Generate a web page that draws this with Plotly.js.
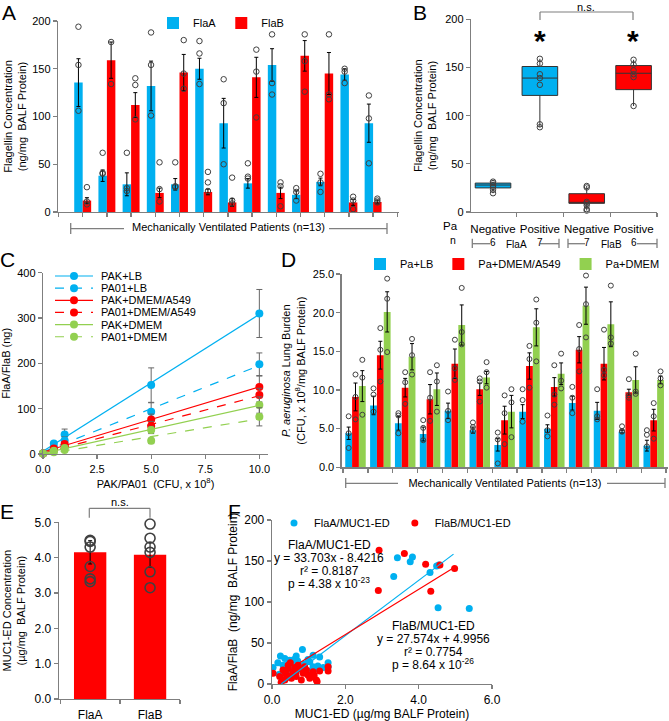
<!DOCTYPE html>
<html>
<head>
<meta charset="utf-8">
<script src="https://cdn.plot.ly/plotly-3.0.1.min.js"></script>
<style>
  body { margin: 0; background: #fff; }
  #fig { width: 669px; height: 721px; }
</style>
</head>
<body>
<div id="fig"></div>
<script>
// ---- panel A: flagellin per patient ----
const patientsA = [0, 1, 2, 3, 4, 5, 6, 7, 8, 9, 10, 11, 12];
const flaA = [135.5, 38, 29, 132, 29, 150, 93, 30, 154, 18, 31.5, 144, 93];
const flaB = [12, 159, 112, 20, 146, 21, 10, 141, 20, 163.5, 145, 10, 10.5];
const flaAErr = [25, 6, 12, 26, 6, 11, 26, 5, 17, 4, 4, 6, 20];
const flaBErr = [3, 19, 13, 5, 19, 3, 4, 21, 6, 16, 22, 3, 2];
const flaADots = [[194, 154, 106], [62, 41, 40], [62, 25, 22], [188, 154, 101], [52, 27, 26], [179, 166, 134],
  [139, 114, 50], [51, 37, 35], [186, 135, 123], [25, 21, 12], [40, 31, 21], [150, 147, 135], [122, 98, 51]];
const flaBDots = [[26, 11, 8], [210, 178, 134], [140, 133, 97], [52, 24, 11], [180, 145, 129], [42, 31, 22],
  [36, 12, 9], [170, 147, 99], [31, 27, 6], [186, 158, 126], [186, 123, 118], [16, 12, 3], [14, 12, 10]];

// ---- panel B: box plots ----
const catB = ['Negative', 'Positive', 'Negative', 'Positive'];
const nB = [6, 7, 7, 6];
const q1B = [25, 121, 9, 127];
const medB = [28, 139, 10, 144];
const q3B = [30, 151, 19, 152];
const lowB = [19.5, 88, 1.5, 110];
const highB = [31.5, 159, 27, 158];
const dotsB = [[31.5, 30, 28, 26, 23, 19.5], [159, 154, 143, 139, 132, 91, 88],
  [27, 25.5, 10.5, 9, 7, 3, 1.5], [158, 153, 147, 143, 140, 110]];

// ---- panel C: flagellin vs bacteria ----
const doseC = [0, 0.5, 1, 5, 10];
const namesC = ['PAK+LB', 'PA01+LB', 'PAK+DMEM/A549', 'PA01+DMEM/A549', 'PAK+DMEM', 'PA01+DMEM'];
const pakLB = [1, 23, 43, 152, 310];
const pa01LB = [1, 15, 30, 93, 198];
const pakA549 = [1, 12, 22, 76, 148];
const pa01A549 = [1, 9, 17, 62, 130];
const pakDMEM = [1, 7, 13, 53, 108];
const pa01DMEM = [1, 4, 9, 29, 82];
const pakLBErr = [0, 4, 12, 38, 53];
const pa01LBErr = [0, 3, 8, 20, 25];
const pakA549Err = [0, 3, 5, 12, 24];
const pa01A549Err = [0, 2, 4, 10, 15];
const pakDMEMErr = [0, 2, 3, 8, 18];
const pa01DMEMErr = [0, 1, 3, 6, 20];

// ---- panel D: lung burden ----
const patientsD = [0, 1, 2, 3, 4, 5, 6, 7, 8, 9, 10, 11, 12];
const namesD = ['Pa+LB', 'Pa+DMEM/A549', 'Pa+DMEM'];
const dLB = [4.4, 8.0, 5.7, 4.3, 7.3, 4.8, 2.9, 7.2, 5.0, 8.3, 7.3, 4.6, 2.8];
const dA549 = [9.1, 14.5, 10.3, 8.8, 13.4, 10.1, 6.1, 13.1, 10.4, 15.2, 13.4, 9.7, 6.1];
const dDMEM = [10.5, 20.1, 14.3, 10.1, 18.4, 11.6, 7.2, 18.1, 12.1, 20.9, 18.5, 11.3, 11.3];
const dLBErr = [0.8, 1.2, 0.9, 0.9, 1.0, 0.4, 0.8, 0.9, 0.5, 0.9, 1.1, 0.2, 0.7];
const dA549Err = [1.8, 1.8, 1.2, 1.9, 1.9, 0.8, 1.8, 1.7, 1.2, 1.7, 2.1, 0.4, 1.4];
const dDMEMErr = [2.0, 2.6, 1.7, 2.1, 2.6, 0.8, 2.1, 2.4, 1.4, 2.4, 2.9, 1.7, 0.5];
const dLBDots = [[6.6, 4.4, 2.5], [10.2, 9.4, 7.2], [7.0, 6.7, 4.4], [6.1, 5.1, 3.5], [9.8, 7.3, 6.1], [5.8, 5.2, 4.7],
  [4.5, 3.6, 0.5], [10.1, 8.7, 5.9], [6.7, 4.8, 4.0], [10.4, 9.0, 7.0], [10.1, 6.6, 6.2], [5.3, 4.7, 4.6], [4.8, 4.2, 2.7]];
const dA549Dots = [[12.0, 9.1, 6.2], [18.0, 15.2, 11.1], [12.3, 11.0, 8.2], [12.3, 9.0, 6.0], [16.5, 12.8, 11.3], [11.5, 11.1, 8.5],
  [9.3, 7.0, 3.0], [15.7, 14.0, 10.3], [13.2, 9.4, 8.1], [18.4, 15.3, 12.4], [17.8, 12.6, 11.9], [11.4, 9.3, 9.0], [8.3, 6.6, 3.7]];
const dDMEMDots = [[13.9, 11.6, 6.8], [24.4, 21.8, 14.9], [16.6, 14.5, 12.0], [13.2, 11.1, 7.2], [23.2, 17.5, 15.9], [13.6, 12.3, 10.3],
  [10.1, 8.4, 3.9], [21.7, 18.7, 13.7], [14.7, 11.2, 10.2], [24.8, 21.1, 16.8], [23.5, 16.8, 16.0], [14.7, 9.8, 9.5], [12.4, 11.5, 10.6]];

// ---- panel E: MUC1-ED ----
const catE = ['FlaA', 'FlaB'];
const meanE = [4.15, 4.08];
const errE = [0.33, 0.35];
const dotsE = [[4.49, 4.46, 4.3, 3.75, 3.4, 3.32], [4.95, 4.55, 4.3, 4.15, 3.6, 3.15]];

// ---- panel F: correlation ----
const fAx = [3.32, 3.42, 3.77, 3.83, 4.31, 4.49, 4.53, 5.38, 4.55, 0.03, 0.16, 0.23, 0.35, 0.48, 0.66, 0.83, 0.59, 1.03, 1.12,
  1.30, 1.53, 1.53, 0.76, 0.39, 1.21, 0.94, 1.12, 0.53, 0.30, 0.45, 0.70, 1.40, 0.20, 0.60, 0.88, 1.05, 1.25, 0.42, 0.98];
const fAy = [131, 154, 149, 155, 136, 144, 93, 92, 145, 20, 26, 34, 31, 29, 34, 42, 23, 27, 35,
  33, 26, 21, 18, 15, 19, 13, 21, 19, 23, 25, 28, 20, 12, 30, 24, 16, 22, 8, 30];
const fBx = [2.92, 2.90, 3.61, 4.19, 4.58, 4.33, 4.98, 0.03, 0.21, 0.30, 0.35, 0.44, 0.50, 0.57, 0.66, 0.76, 0.85, 0.94, 1.03,
  1.12, 1.21, 1.23, 1.30, 1.53, 1.53, 0.25, 0.39, 0.53, 0.80, 0.98, 0.71, 0.89, 1.07, 0.44, 0.65, 0.62, 0.48, 1.15, 0.36];
const fBy = [163, 114, 159, 146, 145, 113, 141, 13, 9, 17, 5, 23, 26, 15, 9, 19, 13, 17, 7,
  15, 5, 3, 16, 16, 21, 2, 11, 7, 5, 11, 23, 21, 9, 19, 13, 20, 10, 11, 14];
const fitA = [33.703, -8.4216];   // slope, intercept
const fitB = [27.574, 4.9956];
const fitAX = [0.25, 4.95];
const fitBX = [0.6, 5.0];
const eqA = ['FlaA/MUC1-ED', 'y = 33.703x - 8.4216', 'r² = 0.8187', 'p = 4.38 x 10<sup>-23</sup>'];
const eqB = ['FlaB/MUC1-ED', 'y = 27.574x + 4.9956', 'r² = 0.7754', 'p = 8.64 x 10<sup>-26</sup>'];

// ---------------------------------------------------------------
const W = 669, H = 721;
const px = v => v / W;
const py = v => 1 - v / H;

const BLUE = '#00B0F0', RED = '#FF0000', GREEN = '#92D050';
const DOT = '#404040', AXIS = '#7f7f7f';
const FONT = 'Liberation Sans, Arial, Helvetica, sans-serif';

function axisStyle(extra) {
  return Object.assign({
    showline: true, linecolor: AXIS, linewidth: 1.3,
    ticks: 'outside', ticklen: 4, tickcolor: AXIS, tickwidth: 1.3,
    showgrid: false, zeroline: false, fixedrange: true,
    tickfont: { size: 11, color: '#000' }
  }, extra);
}

function errBars(arr, color, w) {
  return { type: 'data', array: arr, color: color || '#000', thickness: 1, width: w || 2 };
}

// open circles sitting on top of bars
function dotTrace(dots, shift, xa, ya, size, lw) {
  const x = [], y = [];
  dots.forEach((vals, i) => vals.forEach(v => { x.push(i + shift); y.push(v); }));
  return {
    type: 'scatter', mode: 'markers', x: x, y: y, xaxis: xa, yaxis: ya,
    marker: { symbol: 'circle-open', size: size || 5.5, color: DOT, line: { width: lw || 1 } },
    cliponaxis: false, showlegend: false, hoverinfo: 'skip'
  };
}

function linFit(xs, ys) {
  const n = xs.length;
  const mx = xs.reduce((a, b) => a + b, 0) / n;
  const my = ys.reduce((a, b) => a + b, 0) / n;
  let sxy = 0, sxx = 0;
  xs.forEach((x, i) => { sxy += (x - mx) * (ys[i] - my); sxx += (x - mx) * (x - mx); });
  const slope = sxy / sxx;
  return [slope, my - slope * mx];
}

const traces = [];

// A
traces.push({ type: 'bar', name: 'FlaA', x: patientsA, y: flaA, width: 0.35, offset: -0.35,
  marker: { color: BLUE }, error_y: errBars(flaAErr), xaxis: 'x', yaxis: 'y', legend: 'legend' });
traces.push({ type: 'bar', name: 'FlaB', x: patientsA, y: flaB, width: 0.35, offset: 0,
  marker: { color: RED }, error_y: errBars(flaBErr), xaxis: 'x', yaxis: 'y', legend: 'legend' });
traces.push(dotTrace(flaADots, -0.175, 'x', 'y'));
traces.push(dotTrace(flaBDots, 0.175, 'x', 'y'));

// B
[[0, 1, BLUE], [2, 3, RED]].forEach(([a, b, col]) => {
  traces.push({ type: 'box', x: [a, b], q1: [q1B[a], q1B[b]], median: [medB[a], medB[b]], q3: [q3B[a], q3B[b]],
    lowerfence: [lowB[a], lowB[b]], upperfence: [highB[a], highB[b]], width: 0.76,
    fillcolor: col, line: { color: '#333', width: 1 }, whiskerwidth: 0, boxpoints: false,
    xaxis: 'x2', yaxis: 'y2', showlegend: false, hoverinfo: 'skip' });
});
traces.push(dotTrace(dotsB, 0, 'x2', 'y2'));

// C
const seriesC = [pakLB, pa01LB, pakA549, pa01A549, pakDMEM, pa01DMEM];
const errC = [pakLBErr, pa01LBErr, pakA549Err, pa01A549Err, pakDMEMErr, pa01DMEMErr];
const colC = [BLUE, BLUE, RED, RED, GREEN, GREEN];
const dashC = ['solid', 'dash', 'solid', 'dash', 'solid', 'dash'];
seriesC.forEach((ys, i) => {
  const fit = linFit(doseC, ys);
  const lx = [doseC[0], doseC[doseC.length - 1]];
  traces.push({ type: 'scatter', mode: 'lines', x: lx, y: lx.map(v => fit[0] * v + fit[1]),
    line: { color: colC[i], width: 1.2, dash: dashC[i] }, xaxis: 'x3', yaxis: 'y3', showlegend: false, hoverinfo: 'skip' });
});
seriesC.forEach((ys, i) => {
  traces.push({ type: 'scatter', mode: 'markers', name: namesC[i], x: doseC, y: ys,
    marker: { color: colC[i], size: 8 }, error_y: errBars(errC[i], '#666', 3),
    xaxis: 'x3', yaxis: 'y3', showlegend: false, cliponaxis: false });
});

// D
const seriesD = [dLB, dA549, dDMEM];
const errD = [dLBErr, dA549Err, dDMEMErr];
const dotsD = [dLBDots, dA549Dots, dDMEMDots];
const colD = [BLUE, RED, GREEN];
const bw = 0.275;
seriesD.forEach((ys, i) => {
  traces.push({ type: 'bar', name: namesD[i], x: patientsD, y: ys, width: bw, offset: -1.5 * bw + i * bw,
    marker: { color: colD[i] }, error_y: errBars(errD[i]), xaxis: 'x4', yaxis: 'y4', legend: 'legend2' });
});
dotsD.forEach((d, i) => traces.push(dotTrace(d, -bw + i * bw, 'x4', 'y4', 5)));

// E
traces.push({ type: 'bar', x: [0, 1], y: meanE, width: 0.54, marker: { color: RED },
  error_y: errBars(errE), xaxis: 'x5', yaxis: 'y5', showlegend: false });
traces.push(dotTrace(dotsE, 0, 'x5', 'y5', 10, 1.6));

// F
traces.push({ type: 'scatter', mode: 'markers', name: 'FlaA/MUC1-ED', x: fAx, y: fAy,
  marker: { color: BLUE, size: 7 }, xaxis: 'x6', yaxis: 'y6', legend: 'legend3' });
traces.push({ type: 'scatter', mode: 'markers', name: 'FlaB/MUC1-ED', x: fBx, y: fBy,
  marker: { color: RED, size: 7 }, xaxis: 'x6', yaxis: 'y6', legend: 'legend3' });
traces.push({ type: 'scatter', mode: 'lines', x: fitAX, y: fitAX.map(v => fitA[0] * v + fitA[1]),
  line: { color: BLUE, width: 1.2 }, xaxis: 'x6', yaxis: 'y6', showlegend: false });
traces.push({ type: 'scatter', mode: 'lines', x: fitBX, y: fitBX.map(v => fitB[0] * v + fitB[1]),
  line: { color: RED, width: 1.2 }, xaxis: 'x6', yaxis: 'y6', showlegend: false });

// ---- decorations ----
const shapes = [];
const annotations = [];
function hline(x0, x1, y, w) {
  shapes.push({ type: 'line', xref: 'paper', yref: 'paper', x0: px(x0), x1: px(x1), y0: py(y), y1: py(y),
    line: { color: AXIS, width: w || 1.3 } });
}
function vline(x, y0, y1, w) {
  shapes.push({ type: 'line', xref: 'paper', yref: 'paper', x0: px(x), x1: px(x), y0: py(y0), y1: py(y1),
    line: { color: AXIS, width: w || 1.3 } });
}
function note(text, x, y, opts) {
  annotations.push(Object.assign({ text: text, xref: 'paper', yref: 'paper', x: px(x), y: py(y),
    showarrow: false, xanchor: 'center', yanchor: 'middle', borderpad: 0,
    font: { size: 11, color: '#000' } }, opts || {}));
}

// panel letters
[['A', 9, 13], ['B', 420, 13], ['C', 7, 259], ['D', 288, 259], ['E', 7, 511], ['F', 235, 511]]
  .forEach(([t, x, y]) => note(t, x, y, { font: { size: 21, color: '#000' } }));

// A bracket
vline(70.7, 223, 234); hline(70.7, 124, 228.7); hline(329, 387, 228.7); vline(387, 223, 234);

// B significance + group brackets
hline(540, 633, 12, 1.2); vline(540, 12, 20, 1.2); vline(633, 12, 20, 1.2);
note('n.s.', 586, 7);
note('<b>*</b>', 540, 41, { font: { size: 30, color: '#000' } });
note('<b>*</b>', 633, 41, { font: { size: 30, color: '#000' } });
note('Pa', 450, 225.5, { font: { size: 11.5, color: '#000' } });
note('n', 453, 240, { font: { size: 10.5, color: '#000' } });
nB.forEach((n, i) => annotations.push({ text: String(n), xref: 'x2', yref: 'paper', x: i, y: py(236),
  showarrow: false, borderpad: 0, font: { size: 10, color: '#000' } }));
vline(472.3, 238.7, 248); hline(472.3, 490, 243.7); hline(540, 559, 243.7); vline(559, 238.7, 248);
vline(568, 238.7, 248); hline(568, 585, 243.7); hline(637, 657, 243.7); vline(657, 238.7, 248);
note('FlaA', 516, 244, { font: { size: 10, color: '#000' } });
note('FlaB', 611, 244, { font: { size: 10, color: '#000' } });

// C legend
namesC.forEach((nm, i) => {
  const y = 276 + i * 12.15;
  shapes.push({ type: 'line', xref: 'paper', yref: 'paper', x0: px(55), x1: px(93), y0: py(y), y1: py(y),
    line: { color: colC[i], width: 1.2, dash: dashC[i] } });
  shapes.push({ type: 'circle', xref: 'paper', yref: 'paper', xsizemode: 'pixel', ysizemode: 'pixel',
    xanchor: px(74), yanchor: py(y), x0: -4, x1: 4, y0: -4, y1: 4, fillcolor: colC[i], line: { width: 0 } });
  note(nm, 100, y, { xanchor: 'left', font: { size: 11, color: '#000' } });
});

// D bracket
vline(345.7, 478, 488); hline(345.7, 398, 483.3); hline(607, 665, 483.3); vline(665, 478, 488);

// E significance
hline(89.3, 150, 508.3, 1.2); vline(89.3, 508.3, 517.7, 1.2); vline(150, 508.3, 517.7, 1.2);
note('n.s.', 120, 502);

// F regression text
const eqAy = [545, 558, 570.5, 582.5];
const eqBy = [625.5, 639, 651.5, 663.5];
eqA.forEach((t, i) => note(t, 329, eqAy[i], { font: { size: 12, color: '#000' } }));
eqB.forEach((t, i) => note(t, 433, eqBy[i], { font: { size: 12, color: '#000' } }));

const yTitleAB = 'Flagellin Concentration<br>(ng/mg  BALF Protein)';
const t11 = { size: 11, color: '#000' };
const legendBase = { orientation: 'h', xanchor: 'left', yanchor: 'middle', bgcolor: 'rgba(0,0,0,0)',
  font: { size: 11, color: '#000' }, itemwidth: 30, borderwidth: 0 };

const layout = {
  width: W, height: H,
  margin: { l: 0, r: 0, t: 0, b: 0 },
  paper_bgcolor: '#fff', plot_bgcolor: 'rgba(0,0,0,0)',
  font: { family: FONT, size: 11, color: '#000' },
  barmode: 'overlay', boxmode: 'overlay',
  showlegend: true, hovermode: false,
  legend: Object.assign({}, legendBase, { x: px(153), y: py(23) }),
  legend2: Object.assign({}, legendBase, { x: px(360), y: py(264) }),
  legend3: Object.assign({}, legendBase, { x: px(274), y: py(523) }),

  xaxis: axisStyle({ domain: [px(58), px(399)], range: [-1.02, 13.07], anchor: 'y',
    tickmode: 'linear', tick0: 0, dtick: 1, showticklabels: false,
    title: { text: 'Mechanically Ventilated Patients (n=13)', font: t11, standoff: 7 } }),
  yaxis: axisStyle({ domain: [py(212), py(21)], range: [0, 200], dtick: 50, anchor: 'x',
    title: { text: yTitleAB, font: t11, standoff: 3 } }),

  xaxis2: axisStyle({ domain: [px(471), px(657)], range: [-0.47, 3.5], anchor: 'y2',
    tickmode: 'array', tickvals: [0, 1, 2, 3], ticktext: catB, ticks: '', ticklabelstandoff: 6,
    tickangle: 0, tickfont: { size: 11.5, color: '#000' },
    minor: { tickmode: 'linear', tick0: 0.5, dtick: 1, ticks: 'outside', ticklen: 4, tickcolor: AXIS, tickwidth: 1.3 } }),
  yaxis2: axisStyle({ domain: [py(212), py(19.3)], range: [0, 200], dtick: 50, anchor: 'x2',
    title: { text: yTitleAB, font: t11, standoff: 6 } }),

  xaxis3: axisStyle({ domain: [px(43), px(268)], range: [0, 10.4], anchor: 'y3',
    tickmode: 'linear', tick0: 0, dtick: 2.5, tickformat: '.1f',
    title: { text: 'PAK/PA01  (CFU, x 10<sup>8</sup>)', font: t11, standoff: 6 } }),
  yaxis3: axisStyle({ domain: [py(454), py(272.7)], range: [0, 400], dtick: 100, anchor: 'x3',
    title: { text: 'FlaA/FlaB (ng)', font: t11, standoff: 6 } }),

  xaxis4: axisStyle({ domain: [px(341.7), px(668)], range: [-0.555, 12.575], anchor: 'y4',
    tickmode: 'linear', tick0: 0.5, dtick: 1, showticklabels: false,
    title: { text: 'Mechanically Ventilated Patients (n=13)', font: t11, standoff: 7 } }),
  yaxis4: axisStyle({ domain: [py(467.3), py(274)], range: [0, 25], dtick: 5, tickformat: '.1f', anchor: 'x4',
    title: { text: '<i>P. aeruginosa</i> Lung Burden<br>(CFU, x 10<sup>8</sup>/mg BALF Protein)', font: t11, standoff: 5 } }),

  xaxis5: axisStyle({ domain: [px(59), px(180)], range: [-0.52, 1.5], anchor: 'y5',
    tickmode: 'array', tickvals: [0, 1], ticktext: catE, ticks: '', ticklabelstandoff: 4,
    tickangle: 0, tickfont: { size: 12, color: '#000' },
    minor: { tickmode: 'linear', tick0: 0.5, dtick: 1, ticks: 'outside', ticklen: 4, tickcolor: AXIS, tickwidth: 1.3 } }),
  yaxis5: axisStyle({ domain: [py(699), py(522.3)], range: [0, 5], dtick: 1, tickformat: '.1f', anchor: 'x5',
    tickfont: { size: 12, color: '#000' },
    title: { text: 'MUC1-ED Concentration<br>(µg/mg  BALF Protein)', font: t11, standoff: 6 } }),

  xaxis6: axisStyle({ domain: [px(272), px(492)], range: [0, 6], dtick: 2, tickformat: '.1f', anchor: 'y6',
    tickfont: { size: 12, color: '#000' },
    title: { text: 'MUC1-ED (µg/mg BALF Protein)', font: { size: 12, color: '#000' }, standoff: 3 } }),
  yaxis6: axisStyle({ domain: [py(684), py(520)], range: [0, 200], dtick: 50, anchor: 'x6',
    tickfont: { size: 12, color: '#000' },
    title: { text: 'FlaA/FlaB  (ng/mg  BALF Protein)', font: { size: 12, color: '#000' }, standoff: 4 } }),

  shapes: shapes,
  annotations: annotations
};

Plotly.newPlot('fig', traces, layout, { displayModeBar: false, staticPlot: true });
</script>
</body>
</html>
